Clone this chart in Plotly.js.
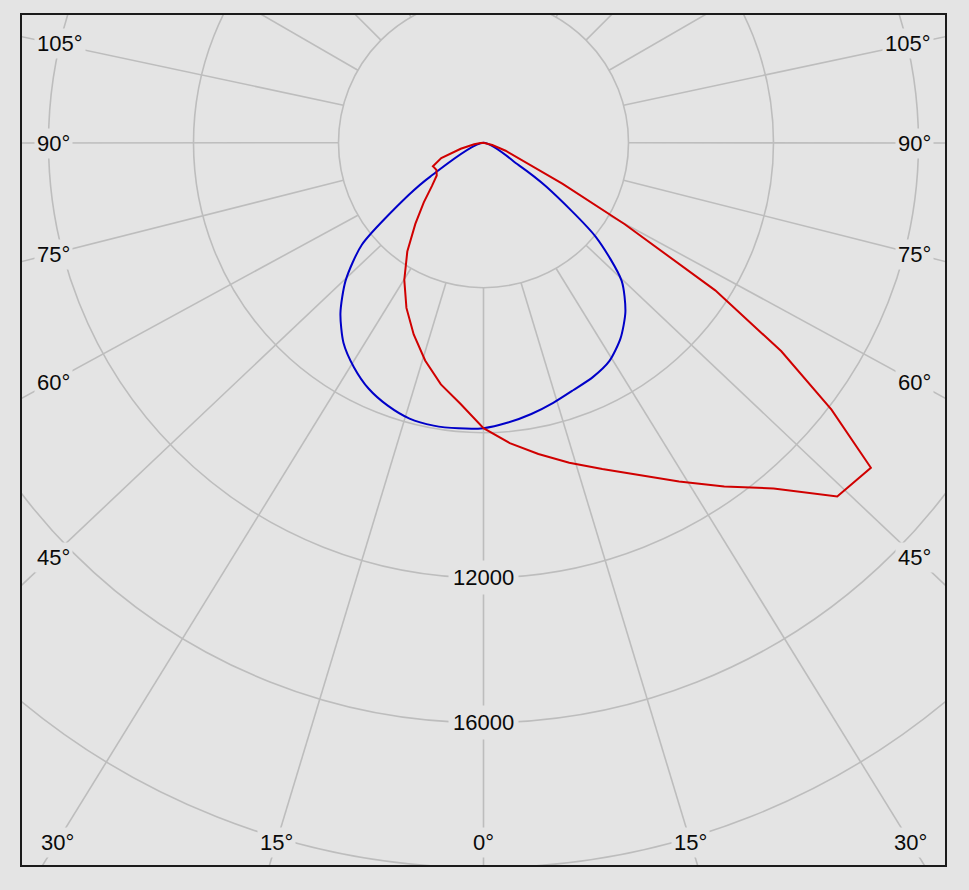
<!DOCTYPE html>
<html>
<head>
<meta charset="utf-8">
<script src="https://cdn.plot.ly/plotly-3.0.1.min.js"></script>
<style>html,body{margin:0;padding:0;background:#e4e4e4;}</style>
</head>
<body>
<div id="chart" style="width:969px;height:890px;"></div>
<script>
// ---- Data: luminous intensity (cd) per gamma angle (deg, 0 = straight down) ----
const gammaBlueLeft  = [0, 5, 10, 15, 20, 25, 30, 35, 40, 45, 50, 55, 57.5, 60];
const blueLeft       = [7875, 7910, 7925, 7880, 7720, 7490, 7150, 6735, 6140, 5380, 4380, 2530, 1740, 0];
const gammaBlueRight = [0, 5, 10, 15, 20, 25, 30, 35, 40, 45, 50, 55, 57.5, 60];
const blueRight      = [7875, 7750, 7600, 7430, 7260, 7135, 6950, 6590, 6090, 5390, 4050, 2120, 1150, 0];
const gammaRedLeft   = [0, 5, 10, 15, 20, 25, 30, 35, 40, 45, 50, 55, 60, 65, 70, 75, 80, 85, 90];
const redLeft        = [7875, 7235, 6770, 6220, 5630, 5030, 4370, 3665, 2925, 2330, 1855, 1575, 1500, 1540, 1240, 650, 260, 80, 0];
const gammaRedRight  = [0, 5, 10, 15, 20, 25, 30, 35, 40, 45, 50, 52.5, 55, 57.5, 60, 62.5, 65, 70, 75, 80, 85, 90];
const redRight       = [7875, 8320, 8720, 9140, 9580, 10110, 10790, 11580, 12450, 13800, 13950, 12100, 10030, 7580, 4500, 2450, 1400, 650, 250, 100, 30, 0];

// ---- Grid / tick values ----
const ringValues = [4000, 8000, 12000, 16000, 20000, 24000, 28000];
const ringLabelValues = [12000, 16000];
const sideLabelAngles = [105, 90, 75, 60, 45];
const bottomLabelAngles = [30, 15, 0];
const topGridAngles = [120, 135, 150, 165, 180];

// ---- Layout geometry (pixels) ----
const W = 969, H = 890;
const frame = {l: 22, r: 945, t: 15, b: 865};
const CX = 483.5, CY = 142.7;           // pole position in pixels
const K = 4000 / 145;                    // cd per pixel
const sideLabelY = {105: 43, 90: 143, 75: 254, 60: 382, 45: 557};
const sideLabelCenterOff = 432;
const bottomLabelY = 842;
const bottomLabelOff = {30: 426.5, 15: 207, 0: 0};

const bg = '#e4e4e4';
const gridColor = '#bdbdbd';
const font = {family: 'Liberation Sans, Arial, sans-serif', size: 22, color: '#0a0a0a'};

const rad = d => d * Math.PI / 180;
const pxX = px => (px - CX) * K;
const pxY = py => (CY - py) * K;

function curve(gL, vL, gR, vR) {
  const x = [], y = [];
  for (let i = gL.length - 1; i >= 0; i--) { x.push(-vL[i] * Math.sin(rad(gL[i]))); y.push(-vL[i] * Math.cos(rad(gL[i]))); }
  for (let i = 1; i < gR.length; i++) { x.push(vR[i] * Math.sin(rad(gR[i]))); y.push(-vR[i] * Math.cos(rad(gR[i]))); }
  return {x, y};
}

const blue = curve(gammaBlueLeft, blueLeft, gammaBlueRight, blueRight);
const red = curve(gammaRedLeft, redLeft, gammaRedRight, redRight);

const traces = [
  {type: 'scatter', mode: 'lines', x: blue.x, y: blue.y, line: {color: '#0000c8', width: 2, shape: 'spline', smoothing: 0.7}, hoverinfo: 'skip', showlegend: false},
  {type: 'scatter', mode: 'lines', x: red.x, y: red.y, line: {color: '#d00000', width: 2}, hoverinfo: 'skip', showlegend: false}
];

const shapes = [];
const gridLine = {color: gridColor, width: 1.6};
ringValues.forEach(r => shapes.push({type: 'circle', xref: 'x', yref: 'y', x0: -r, x1: r, y0: -r, y1: r, line: gridLine, layer: 'below'}));

const r0 = ringValues[0];
function spoke(angle, side, tx, ty) {
  const x0 = side * r0 * Math.sin(rad(angle)), y0 = -r0 * Math.cos(rad(angle));
  let dx, dy;
  if (tx === undefined) { dx = side * Math.sin(rad(angle)) * 40000; dy = -Math.cos(rad(angle)) * 40000; }
  else { dx = (tx - x0) * 3; dy = (ty - y0) * 3; }
  shapes.push({type: 'line', xref: 'x', yref: 'y', x0: x0, y0: y0, x1: x0 + dx, y1: y0 + dy, line: gridLine, layer: 'below'});
}

const annotations = [];
function label(text, x, y, xanchor) {
  annotations.push({text: text, x: x, y: y, xref: 'x', yref: 'y', showarrow: false, xanchor: xanchor, yanchor: 'middle',
    font: font, bgcolor: bg, borderpad: 2});
}

[-1, 1].forEach(side => {
  sideLabelAngles.forEach(a => {
    const tx = pxX(CX + side * sideLabelCenterOff), ty = pxY(sideLabelY[a]);
    spoke(a, side, tx, ty);
    if (side < 0) label(a + '°', pxX(34), ty, 'left');
    else label(a + '°', pxX(934), ty, 'right');
  });
  bottomLabelAngles.forEach(a => {
    if (a === 0 && side > 0) return;
    const tx = pxX(CX + side * bottomLabelOff[a]), ty = pxY(bottomLabelY);
    spoke(a, side, tx, ty);
    label(a + '°', tx, ty, 'center');
  });
  topGridAngles.forEach(a => spoke(a, side));
});

ringLabelValues.forEach(v => {
  annotations.push({text: String(v), x: 0, y: -v, xref: 'x', yref: 'y', showarrow: false, xanchor: 'center', yanchor: 'middle',
    font: font, bgcolor: bg, borderpad: 4});
});

const axisCommon = {showgrid: false, zeroline: false, showticklabels: false, ticks: '', showline: true, mirror: true,
  linecolor: '#1a1a1a', linewidth: 2, fixedrange: true};

const layout = {
  width: W, height: H,
  margin: {l: frame.l, r: W - frame.r, t: frame.t, b: H - frame.b, pad: 0},
  paper_bgcolor: bg, plot_bgcolor: bg,
  xaxis: Object.assign({range: [pxX(frame.l), pxX(frame.r)]}, axisCommon),
  yaxis: Object.assign({range: [pxY(frame.b), pxY(frame.t)]}, axisCommon),
  shapes: shapes,
  annotations: annotations,
  showlegend: false
};

Plotly.newPlot('chart', traces, layout, {staticPlot: true, displayModeBar: false});
</script>
</body>
</html>
